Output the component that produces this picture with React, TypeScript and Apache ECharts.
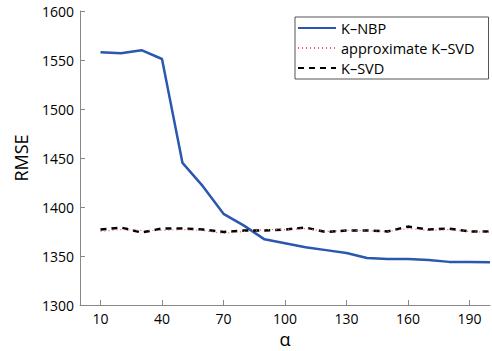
import React, { useEffect, useRef } from "react";
import * as echarts from "echarts";

const alphas = [10, 20, 30, 40, 50, 60, 70, 80, 90, 100, 110, 120, 130, 140, 150, 160, 170, 180, 190, 200];
const kNBP = [1558, 1557, 1560, 1551, 1445, 1421, 1393, 1381, 1367, 1363, 1359, 1356, 1353, 1348, 1347, 1347, 1346, 1344, 1344, 1343.5];
const approxKSVD = [1375, 1377, 1376, 1376, 1377, 1376, 1373, 1375, 1377, 1377, 1378, 1375, 1376, 1376, 1375, 1378, 1376, 1377, 1375, 1374];
const kSVD = [1377, 1379, 1374, 1378, 1378, 1377, 1374.5, 1376, 1376, 1377, 1379, 1374.5, 1376, 1376, 1375, 1380, 1377, 1378, 1375, 1375];
const xTicks = [10, 40, 70, 100, 130, 160, 190];
const seriesNames = ["K–NBP", "approximate K–SVD", "K–SVD"];

const FONT = "Open Sans";

export default function App() {
  const ref = useRef<HTMLDivElement>(null);
  useEffect(() => {
    if (!ref.current) return;
    const chart = echarts.init(ref.current, null, { renderer: "svg" });
    const pair = (ys: number[]) => alphas.map((a, i) => [a, ys[i]]);
    chart.setOption({
      animation: false,
      backgroundColor: "#fff",
      textStyle: { fontFamily: FONT },
      grid: { left: 80, right: 2, top: 11, bottom: 46, outerBoundsMode: "none", containLabel: false },
      legend: {
        orient: "vertical",
        left: 295,
        top: 17,
        padding: [3, 14, 3, 2],
        itemGap: 4,
        itemWidth: 38,
        itemHeight: 16,
        borderColor: "#555",
        borderWidth: 1,
        backgroundColor: "#fff",
        itemStyle: { opacity: 0, borderWidth: 0 },
        textStyle: { fontFamily: FONT, fontSize: 14.5, lineHeight: 16, color: "#000", padding: [0, 0, 0, 0] },
        data: seriesNames,
      },
      xAxis: {
        type: "value",
        min: 0,
        max: 200,
        name: "α",
        nameLocation: "middle",
        nameGap: 17,
        nameTextStyle: { fontFamily: FONT, fontSize: 18, lineHeight: 18, color: "#000" },
        axisLine: { show: true, onZero: false, lineStyle: { color: "#888", width: 1 } },
        axisTick: { show: true, inside: true, length: 5, customValues: xTicks, lineStyle: { color: "#888" } },
        axisLabel: { customValues: xTicks, fontFamily: FONT, fontSize: 14, color: "#000", margin: 6 },
        splitLine: { show: false },
      },
      yAxis: {
        type: "value",
        min: 1300,
        max: 1600,
        interval: 50,
        name: "RMSE",
        nameLocation: "middle",
        nameGap: 50,
        nameTextStyle: { fontFamily: FONT, fontSize: 18, color: "#000" },
        axisLine: { show: true, lineStyle: { color: "#888", width: 1 } },
        axisTick: { show: true, inside: true, length: 5, lineStyle: { color: "#888" } },
        axisLabel: { fontFamily: FONT, fontSize: 14, color: "#000", margin: 6, formatter: (v: number) => String(v) },
        splitLine: { show: false },
      },
      series: [
        {
          name: seriesNames[0],
          type: "line",
          data: pair(kNBP),
          symbol: "none",
          itemStyle: { color: "#2a57b0" },
          lineStyle: { color: "#2a57b0", width: 2.5 },
          z: 2,
        },
        {
          name: seriesNames[1],
          type: "line",
          data: pair(approxKSVD),
          symbol: "none",
          itemStyle: { color: "#f05a5a" },
          lineStyle: { color: "#f05a5a", width: 1.2, type: [1, 3] },
          z: 5,
        },
        {
          name: seriesNames[2],
          type: "line",
          data: pair(kSVD),
          symbol: "none",
          itemStyle: { color: "#000" },
          lineStyle: { color: "#000", width: 2.5, type: [6, 5] },
          z: 4,
        },
      ],
    });
    return () => chart.dispose();
  }, []);
  return <div ref={ref} style={{ width: 492, height: 351, position: "absolute", left: 0, top: 0 }} />;
}
